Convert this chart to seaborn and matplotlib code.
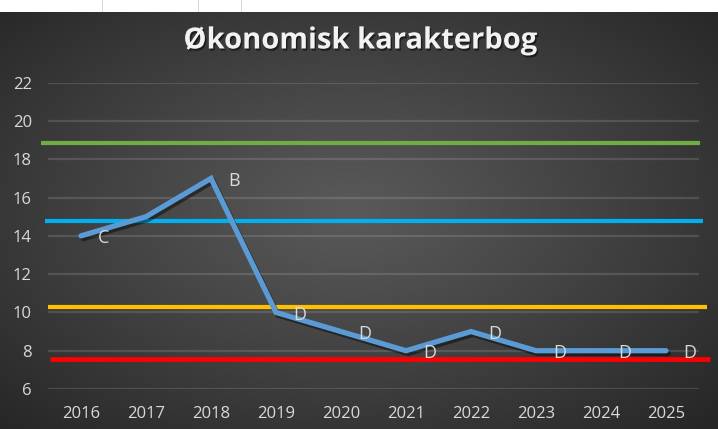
import numpy as np
import pandas as pd
import seaborn as sns
import matplotlib.pyplot as plt
import matplotlib.patheffects as pe

# data
years = ["2016", "2017", "2018", "2019", "2020", "2021", "2022", "2023", "2024", "2025"]
grades = [14, 15, 17, 10, 9, 8, 9, 8, 8, 8]
grade_labels = ["C", "", "B", "D", "D", "D", "D", "D", "D", "D"]
ref_values = [18.85, 14.75, 10.3, 7.55]
ref_colors = ["#70AD47", "#00B0F0", "#FFC000", "#FF0000"]
y_ticks = [6, 8, 10, 12, 14, 16, 18, 20, 22]

W, H = 718, 429
DPI = 100

sns.set_theme(style="dark")
plt.rcParams["font.family"] = ["Open Sans", "DejaVu Sans"]

fig = plt.figure(figsize=(W / DPI, H / DPI), dpi=DPI)

# radial gradient background, white spreadsheet strip on top
yy, xx = np.mgrid[0:H, 0:W]
r = np.sqrt(((xx - 350) / (W / 2)) ** 2 + ((yy - 210) / (H / 2)) ** 2) / np.sqrt(2)
r = np.clip(r, 0, 1)
c_in, c_out = 0.35, 0.15
shade = c_in + (c_out - c_in) * r ** 1.1
bg = np.dstack([shade, shade, shade])
bg[:12, :, :] = 1.0
for gx in (102, 198, 241):
    bg[:12, gx, :] = 0.85
bg_ax = fig.add_axes([0, 0, 1, 1], zorder=0)
bg_ax.imshow(bg, aspect="auto", interpolation="bilinear")
bg_ax.axis("off")

left, right = 48.5, 698.5
top, bottom = 82.7, 389.0
ax = fig.add_axes([left / W, (H - bottom) / H, (right - left) / W, (bottom - top) / H], zorder=1)
ax.patch.set_alpha(0)

df = pd.DataFrame({"year": years, "grade": grades})
df["pos"] = range(len(df))

ax.set_xlim(-0.5, len(years) - 0.5)
ax.set_ylim(6, 22)
ax.set_yticks(y_ticks)
ax.set_xticks(df["pos"])
ax.set_xticklabels(years)
ax.grid(axis="y", color="white", alpha=0.13, linewidth=1.6)
ax.grid(axis="x", visible=False)
for s in ax.spines.values():
    s.set_visible(False)
ax.tick_params(axis="both", length=0, colors="#D9D9D9", labelsize=12)
ax.tick_params(axis="y", pad=12)
ax.tick_params(axis="x", pad=12)

# reference lines, slightly overhanging the plot area like the original
spans = [(-0.615, 9.52), (-0.554, 9.57), (-0.508, 9.63), (-0.477, 9.68)]
widths = [3.0, 3.0, 3.0, 3.4]
for val, col, (x0, x1), lw in zip(ref_values, ref_colors, spans, widths):
    ax.plot([x0, x1], [val, val], color=col, linewidth=lw, clip_on=False, zorder=2,
            solid_capstyle="butt")

sns.lineplot(data=df, x="pos", y="grade", ax=ax, color="#5B9BD5", linewidth=3.8,
             zorder=3, solid_capstyle="round", solid_joinstyle="miter",
             path_effects=[pe.SimpleLineShadow(offset=(1.5, -2), shadow_color="black", alpha=0.45),
                           pe.Normal()])
ax.set_xlabel("")
ax.set_ylabel("")

for pos, g, lab in zip(df["pos"], grades, grade_labels):
    if lab:
        ax.annotate(lab, (pos, g), xytext=(12.5, -1.5), textcoords="offset points",
                    ha="left", va="center", color="#D9D9D9", fontsize=13, zorder=4)

fig.text(360 / W, 1 - 41 / H, "Økonomisk karakterbog", ha="center", va="center",
         color="#F2F2F2", fontsize=21, fontweight="bold",
         path_effects=[pe.SimplePatchShadow(offset=(1, -1.5), shadow_rgbFace="black", alpha=0.5),
                       pe.Normal()])

fig.savefig("out.png", dpi=DPI)
